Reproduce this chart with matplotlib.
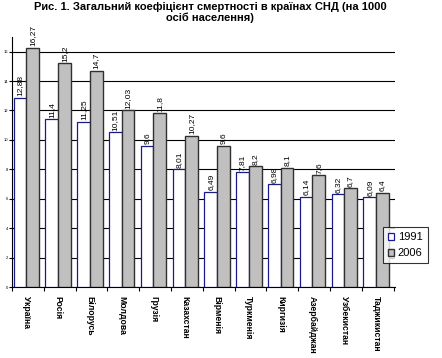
import numpy as np
import matplotlib
matplotlib.use("Agg")
import matplotlib.pyplot as plt

plt.rcParams['font.family'] = ['Liberation Sans', 'DejaVu Sans']

countries = ['Україна', 'Росія', 'Білорусь', 'Молдова', 'Грузія', 'Казахстан',
             'Вірменія', 'Туркменія', 'Киргизія', 'Азербайджан', 'Узбекистан', 'Таджикистан']
v1991 = [12.88, 11.4, 11.25, 10.51, 9.6, 8.01, 6.49, 7.81, 6.98, 6.14, 6.32, 6.09]
v2006 = [16.27, 15.2, 14.7, 12.03, 11.8, 10.27, 9.6, 8.2, 8.1, 7.6, 6.7, 6.4]
series_names = ['1991', '2006']

fig = plt.figure(figsize=(4.42, 3.58), dpi=100)
ax = fig.add_axes([0.027, 0.198, 0.867, 0.699])

x = np.arange(len(countries))
w = 0.4
b1 = ax.bar(x - 0.45, v1991, width=w, align='edge', color='white',
            edgecolor='#1a1a8c', linewidth=0.9, label=series_names[0], zorder=3)
b2 = ax.bar(x - 0.05, v2006, width=w, align='edge', color='#c0c0c0',
            edgecolor='#303030', linewidth=1.0, label=series_names[1], zorder=3)

def fmt(v):
    return ('%g' % v).replace('.', ',')

for bars, vals in ((b1, v1991), (b2, v2006)):
    for r, v in zip(bars, vals):
        ax.text(r.get_x() + r.get_width() / 2, v + 0.1, fmt(v), rotation=90,
                ha='center', va='bottom', fontsize=6)

ax.set_xlim(-0.5, len(countries) - 0.45)
ax.set_ylim(0, 17)
ax.set_yticks(np.arange(0, 17, 2))
ax.set_yticklabels([str(t) for t in range(0, 17, 2)], fontsize=3)
ax.yaxis.grid(True, color='black', linewidth=0.8, zorder=0)
ax.set_axisbelow(True)

ax.set_xticks(np.arange(-0.5, len(countries), 1))
ax.set_xticklabels([])
ax.tick_params(axis='x', length=3, width=0.8, direction='out')
ax.tick_params(axis='y', length=2, width=0.8, pad=1)
for i, c in enumerate(countries):
    ax.text(i - 0.05, -0.6, c, rotation=-90, ha='center', va='top',
            fontsize=6.2, fontweight='bold')

for s in ('top', 'right'):
    ax.spines[s].set_visible(False)
ax.spines['left'].set_linewidth(0.8)
ax.spines['bottom'].set_linewidth(0.8)

fig.text(0.475, 0.995,
         'Рис. 1. Загальний коефіцієнт смертності в країнах СНД (на 1000\nосіб населення)',
         ha='center', va='top', fontsize=8, fontweight='bold', linespacing=1.05)

leg = fig.legend(handles=[b1, b2], loc='upper left', bbox_to_anchor=(0.866, 0.365),
                 fontsize=8, frameon=True, fancybox=False, edgecolor='black',
                 handlelength=0.6, handleheight=0.6, handletextpad=0.3,
                 borderpad=0.45, labelspacing=0.55, borderaxespad=0)
leg.get_frame().set_linewidth(0.8)

fig.savefig('out.png', dpi=100)
